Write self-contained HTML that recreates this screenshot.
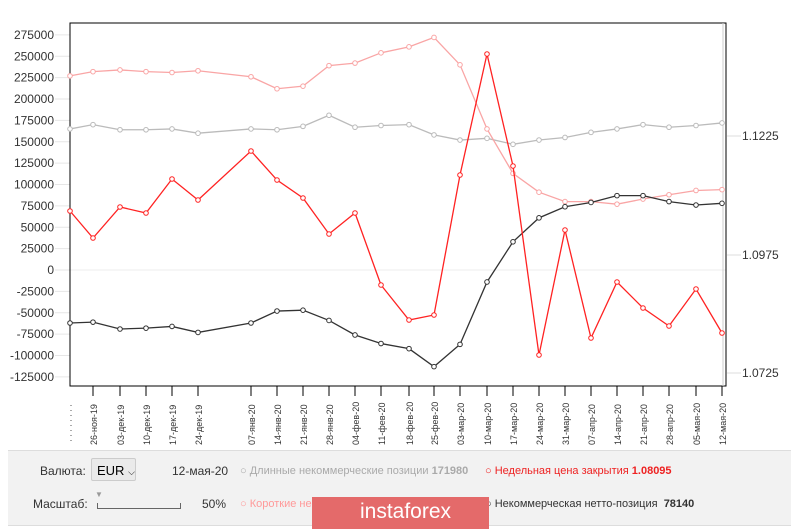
<!DOCTYPE html>
<html><head><meta charset="utf-8"><style>
body{margin:0;width:800px;height:529px;background:#fff;font-family:"Liberation Sans",sans-serif;overflow:hidden;position:relative}
svg{position:absolute;left:0;top:0}
.bp{position:absolute;left:8px;top:450px;width:783px;height:74px;background:#f2f2f2;border-top:1px solid #ddd;border-bottom:1px solid #ddd}
.t{position:absolute;font-size:12px;color:#333;white-space:nowrap}
</style></head><body>
<div class="bp"></div>
<svg id="s" width="800" height="529" xmlns="http://www.w3.org/2000/svg"></svg>
<div class="t" style="left:40px;top:464px">Валюта:</div>
<div style="position:absolute;left:91px;top:458px;width:43px;height:23px;border:1px solid #ccc;background:#eaeaea;border-radius:2px;font-size:13px;line-height:23px;padding-left:5px;box-sizing:border-box;width:45px">EUR <span style="font-size:9px">⌵</span></div>
<div class="t" style="left:172px;top:464px">12-мая-20</div>
<div class="t" style="left:240px;top:465px;color:#aaa;font-size:11px">○ Длинные некоммерческие позиции <b>171980</b></div>
<div class="t" style="left:485px;top:465px;color:#e22;font-size:11px">○ Недельная цена закрытия <b>1.08095</b></div>
<div class="t" style="left:33px;top:497px">Масштаб:</div>
<div style="position:absolute;left:97px;top:503px;width:82px;height:5px;border:1px solid #666;border-top:none"></div>
<div class="t" style="left:95px;top:490px;color:#999;font-size:8px">▼</div>
<div class="t" style="left:202px;top:497px">50%</div>
<div class="t" style="left:240px;top:498px;color:#f99;font-size:11px">○ Короткие некоммерческие</div>
<div class="t" style="left:485px;top:498px;color:#333;font-size:11px">○ Некоммерческая нетто-позиция &nbsp;<b>78140</b></div>
<div style="position:absolute;left:312px;top:497px;width:177px;height:32px;background:#e46a6a;color:#fff;font-size:21px;line-height:30px;text-align:center;padding-left:10px;box-sizing:border-box">instaforex</div>
<script>
const s=document.getElementById('s');let h='';
const xs=[70,93,120,146,172,198,251,277,303,329,355,381,409,434,460,487,513,539,565,591,617,643,669,696,722];
const lab=['','26-ноя-19','03-дек-19','10-дек-19','17-дек-19','24-дек-19','07-янв-20','14-янв-20','21-янв-20','28-янв-20','04-фев-20','11-фев-20','18-фев-20','25-фев-20','03-мар-20','10-мар-20','17-мар-20','24-мар-20','31-мар-20','07-апр-20','14-апр-20','21-апр-20','28-апр-20','05-мая-20','12-мая-20'];
const Y=v=>270-v*0.855;
for(let v=275;v>=-125;v-=25){const y=Y(v);h+=`<line x1="55" y1="${y}" x2="70" y2="${y}" stroke="#e6e6e6"/><text x="54" y="${y+4}" font-size="12" text-anchor="end" fill="#333">${v*1000}</text>`;}
h+=`<line x1="70" y1="270" x2="726" y2="270" stroke="#eee"/>`;
[[1.1225,136],[1.0975,255],[1.0725,373]].forEach(([v,y])=>{h+=`<line x1="727" y1="${y}" x2="741" y2="${y}" stroke="#ddd"/><text x="742" y="${y+4}" font-size="12" fill="#333">${v}</text>`});
h+=`<rect x="70" y="23" width="656" height="363" fill="none" stroke="#000" stroke-width="1"/><line x1="723" y1="23" x2="723" y2="386" stroke="#ccc"/>`;
xs.forEach((x,i)=>{if(i>0){h+=`<line x1="${x}" y1="386" x2="${x}" y2="396" stroke="#000"/>`;h+=`<text transform="translate(${x+4},445) rotate(-90)" font-size="9" fill="#333">${lab[i]}</text>`}});
h+=`<line x1="71" y1="405" x2="71" y2="443" stroke="#555" stroke-dasharray="1,4"/>`;
const L=[165,170,164,164,165,160,165,164,168,181,167,169,170,158,152,154,147,152,155,161,165,170,167,169,172];
const S=[227,232,234,232,231,233,226,212,215,239,242,254,261,272,240,165,113,91,80,80,77,83,88,93,94];
const N=[-62,-61,-69,-68,-66,-73,-62,-48,-47,-59,-76,-86,-92,-113,-87,-14,33,61,74,79,87,87,80,76,78];
const P=[211,238,207,213,179,200,151,180,198,234,213,285,320,315,175,54,166,355,230,338,282,308,326,289,333];
function ser(ys,c,w){h+=`<polyline points="${xs.map((x,i)=>x+','+ys[i]).join(' ')}" fill="none" stroke="${c}" stroke-width="${w}"/>`;xs.forEach((x,i)=>h+=`<circle cx="${x}" cy="${ys[i]}" r="2.3" fill="#fff" stroke="${c}"/>`)}
ser(L.map(Y),'#bbb',1.3);ser(S.map(Y),'#f9a5a5',1.3);ser(N.map(Y),'#333',1.3);ser(P,'#f22',1.3);
s.innerHTML=h;
</script>
</body></html>
